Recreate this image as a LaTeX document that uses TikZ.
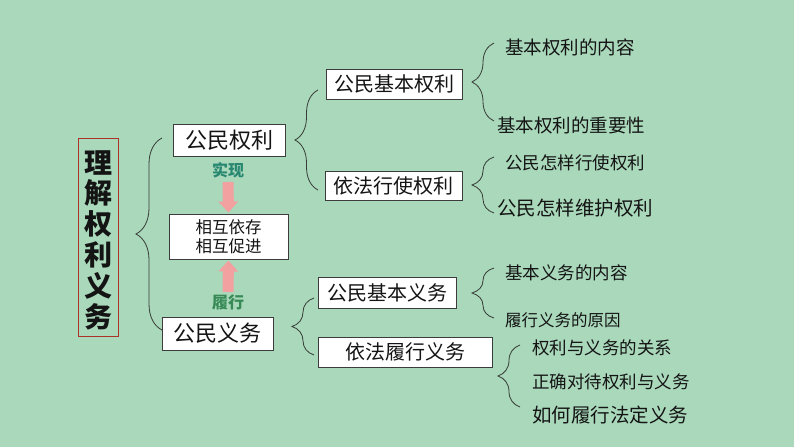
\documentclass[tikz,border=0pt]{standalone}
\usepackage{fontspec}
\setmainfont{Noto Sans CJK SC}
\usetikzlibrary{decorations.pathreplacing,arrows.meta}
\definecolor{bg}{RGB}{169,216,187}
\definecolor{boxgray}{RGB}{60,60,60}
\definecolor{txt}{RGB}{20,20,20}
\definecolor{bracegray}{RGB}{55,60,55}
\definecolor{pinkarr}{RGB}{242,160,160}
\definecolor{teal1}{RGB}{40,135,112}
\definecolor{green1}{RGB}{55,138,85}
\definecolor{titlered}{RGB}{170,50,40}
\newcommand{\fsz}[1]{\fontsize{#1}{#1}\selectfont}
\begin{document}
\begin{tikzpicture}[x=1pt,y=-1pt,
  every node/.style={text=txt},
  boxnode/.style={draw=boxgray, line width=0.9pt, fill=white, inner sep=0pt, align=center},
  item/.style={anchor=west, inner sep=0pt},
  bracepath/.style={draw=bracegray, line width=0.8pt, decorate, decoration={brace, amplitude=#1}},
  pinkarrow/.style={draw=pinkarr, line width=11pt, -{Triangle[width=19pt,length=11pt]}, shorten >=1pt}
]
\fill[bg] (0,0) rectangle (794,447);
\useasboundingbox (0,0) rectangle (794,447);

% title
\node[draw=titlered, line width=0.8pt, fill=bg, minimum width=40pt, minimum height=198pt, inner sep=0pt] (title) at (98,237) {};
\node[align=center, inner sep=0pt, font=\fontsize{28}{30.8}\selectfont\bfseries] (titletext) at (98,240)
  {理\\解\\权\\利\\义\\务};

% level-1 boxes
\node[boxnode, minimum width=112pt, minimum height=32pt, font=\fsz{22}] (qr) at (229,140) {公民权利};
\node[boxnode, minimum width=119pt, minimum height=45pt, font=\fontsize{16.5}{19}\selectfont] (hx) at (228.5,236.5) {相互依存\\相互促进};
\node[boxnode, minimum width=111pt, minimum height=33pt, font=\fsz{22}] (yw) at (217.5,333.5) {公民义务};

\node[font=\fsz{16}\bfseries, text=teal1, inner sep=0pt] (sx) at (228,170) {实现};
\node[font=\fsz{16}\bfseries, text=green1, inner sep=0pt] (lx) at (228,302) {履行};
\coordinate (a1s) at (228,182);
\coordinate (a2s) at (228,292);
\draw[pinkarrow] (a1s) -- (hx.north);
\draw[pinkarrow] (a2s) -- (hx.south);

% level-2 boxes
\node[boxnode, minimum width=136pt, minimum height=30pt, font=\fsz{20}] (jbql) at (394,84) {公民基本权利};
\node[boxnode, minimum width=137pt, minimum height=29pt, font=\fsz{20}] (yfxs) at (393.5,185.5) {依法行使权利};
\node[boxnode, minimum width=138pt, minimum height=31pt, font=\fsz{20}] (jbyw) at (387,292.5) {公民基本义务};
\node[boxnode, minimum width=174pt, minimum height=30pt, font=\fsz{20}] (yflx) at (405,352) {依法履行义务};

% items
\node[item, font=\fsz{18.5}] (i1) at (505,47) {基本权利的内容};
\node[item, font=\fsz{18.5}] (i2) at (497,125) {基本权利的重要性};
\node[item, font=\fsz{17.5}] (i3) at (505,163) {公民怎样行使权利};
\node[item, font=\fsz{19.5}] (i4) at (497,208) {公民怎样维护权利};
\node[item, font=\fsz{17.5}] (i5) at (505,273) {基本义务的内容};
\node[item, font=\fsz{16.5}] (i6) at (505,320) {履行义务的原因};
\node[item, font=\fsz{17.5}] (i7) at (532,348) {权利与义务的关系};
\node[item, font=\fsz{17.5}] (i8) at (532,382) {正确对待权利与义务};
\node[item, font=\fsz{19.5}] (i9) at (532,415) {如何履行法定义务};

% braces (drawn bottom to top, tip on left)
\coordinate (b1b) at (162,330); \coordinate (b1t) at (162,138);
\draw[bracepath=26pt] (b1b) -- (b1t);
\coordinate (b2b) at (318,190); \coordinate (b2t) at (318,90);
\draw[bracepath=23pt] (b2b) -- (b2t);
\coordinate (b3b) at (494,121); \coordinate (b3t) at (494,43);
\draw[bracepath=22pt] (b3b) -- (b3t);
\coordinate (b4b) at (494,213); \coordinate (b4t) at (494,157);
\draw[bracepath=22pt] (b4b) -- (b4t);
\coordinate (b5b) at (314,355); \coordinate (b5t) at (314,298);
\draw[bracepath=22pt] (b5b) -- (b5t);
\coordinate (b6b) at (494,318); \coordinate (b6t) at (494,268);
\draw[bracepath=22pt] (b6b) -- (b6t);
\coordinate (b7b) at (520,407); \coordinate (b7t) at (520,345);
\draw[bracepath=22pt] (b7b) -- (b7t);
\end{tikzpicture}
\end{document}
